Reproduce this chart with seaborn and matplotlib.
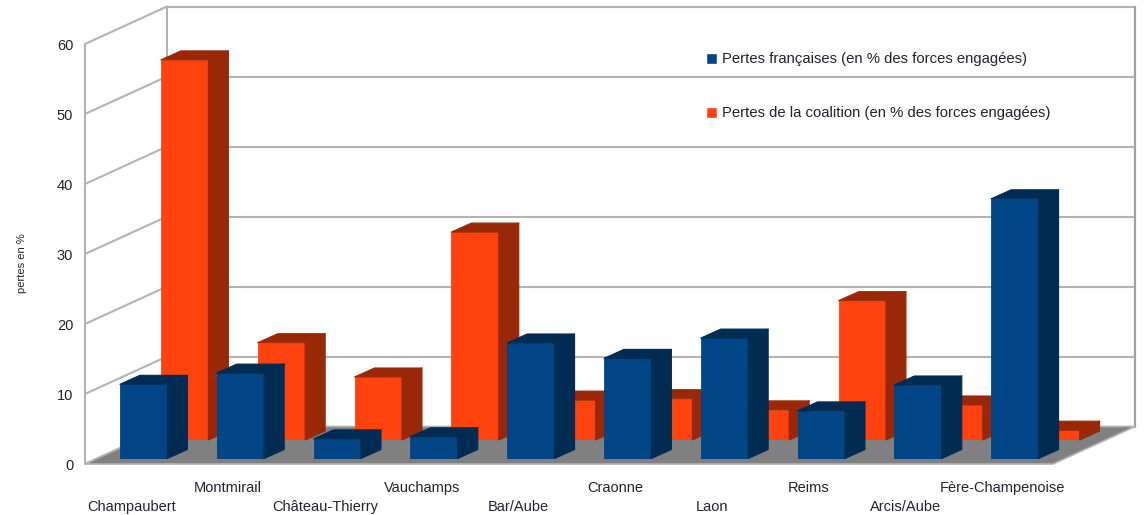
import matplotlib
matplotlib.use("Agg")
import matplotlib.pyplot as plt
from matplotlib.patches import Patch, Polygon
from matplotlib.transforms import ScaledTranslation
import seaborn as sns

battles = ["Champaubert", "Montmirail", "Château-Thierry", "Vauchamps", "Bar/Aube",
           "Craonne", "Laon", "Reims", "Arcis/Aube", "Fère-Champenoise"]
pertes_fr = [10.6, 12.2, 2.8, 3.1, 16.5, 14.3, 17.2, 6.8, 10.5, 37.1]
pertes_coal = [54.3, 13.9, 9.0, 29.7, 5.7, 5.9, 4.3, 19.9, 5.0, 1.4]
y_ticks = [0, 10, 20, 30, 40, 50, 60]
legend_labels = ["Pertes françaises (en % des forces engagées)",
                 "Pertes de la coalition (en % des forces engagées)"]

W, H = 1144, 515
X0, Y0 = 85, 464  # front-left corner of the floor, pixels
PW, PH = 968, 420  # front plane size, pixels
CAT = PW / 10
UNIT = PH / 60

BLUE, BLUE_DARK = "#004586", "#002b53"
ORANGE, ORANGE_DARK = "#ff420e", "#992809"
GRID = "#b3b3b3"
TEXT = "#222233"

sns.set_theme(style="white")
plt.rcParams["font.family"] = ["Liberation Sans", "DejaVu Sans"]


def plane_axes(fig, dx, dy, zorder):
    ax = fig.add_axes([(X0 + dx) / W, 1 - (Y0 - dy) / H, PW / W, PH / H], zorder=zorder)
    ax.patch.set_alpha(0)
    return ax


def draw_bars(ax, values, color, dark):
    sns.barplot(x=battles, y=values, ax=ax, color=color, saturation=1, width=0.49,
                edgecolor=color, linewidth=0.6)
    ax.set_xlim(-0.5, 9.5)
    ax.set_ylim(0, 60)
    ddx, ddy = 20 / CAT, 9 / UNIT
    for bar in ax.patches:
        x1 = bar.get_x() + bar.get_width()
        x0 = bar.get_x()
        h = bar.get_height()
        side = [(x1, 0), (x1 + ddx, ddy), (x1 + ddx, h + ddy), (x1, h)]
        top = [(x0, h), (x0 + ddx, h + ddy), (x1 + ddx, h + ddy), (x1, h)]
        for pts in (side, top):
            ax.add_patch(Polygon(pts, closed=True, facecolor=dark, edgecolor=dark,
                                 linewidth=0.8, joinstyle="round", clip_on=False))
    ax.axis("off")


fig = plt.figure(figsize=(W / 100, H / 100), dpi=100)
fig.patch.set_facecolor("white")

ax = plane_axes(fig, 0, 0, 1)
ax.set_xlim(-0.5, 9.5)
ax.set_ylim(0, 60)
for s in ax.spines.values():
    s.set_visible(False)

# walls and floor, all from the axis scale plus a fixed depth
depth_x, depth_y = 82 / CAT, 37.5 / UNIT
xa, xb = -0.5, 9.5
ax.add_patch(Polygon([(xa, 0), (xb, 0), (xb + depth_x, depth_y), (xa + depth_x, depth_y)],
                     closed=True, facecolor="#808080", edgecolor=GRID, linewidth=1.2,
                     clip_on=False, zorder=2))
for t in y_ticks:
    ax.plot([xa, xa + depth_x], [t, t + depth_y], color=GRID, lw=1.5, clip_on=False, zorder=1)
    if t > 0:
        ax.plot([xa + depth_x, xb + depth_x], [t + depth_y, t + depth_y], color=GRID, lw=1.5,
                clip_on=False, zorder=1)
ax.plot([xa, xa], [0, 60], color=GRID, lw=1.5, clip_on=False, zorder=1)
ax.plot([xa + depth_x] * 2, [depth_y, 60 + depth_y], color=GRID, lw=1.5, clip_on=False, zorder=1)
ax.plot([xb + depth_x] * 2, [depth_y, 60 + depth_y], color="#a0a0a0", lw=1.6, clip_on=False, zorder=1)

ax.set_yticks(y_ticks)
ax.set_xticks(range(len(battles)))
ax.set_xticklabels(battles)
ax.tick_params(axis="both", length=0, labelsize=10.5, labelcolor=TEXT)
ax.tick_params(axis="y", pad=8.5)
for i, tick in enumerate(ax.xaxis.get_major_ticks()):
    tick.set_pad(26 if i % 2 == 0 else 12)
# the labels sit a touch left of the category centres
shift = ScaledTranslation(-2 / 100, 0, fig.dpi_scale_trans)
for label in ax.get_xticklabels():
    label.set_transform(label.get_transform() + shift)
ax.set_ylabel("pertes en %", fontsize=8, color=TEXT)
ax.yaxis.set_label_coords(-58 / PW, (Y0 - 263) / PH)

ax_coal = plane_axes(fig, 51.25, 24, 2)
draw_bars(ax_coal, pertes_coal, ORANGE, ORANGE_DARK)

ax_fr = plane_axes(fig, 10.25, 5.5, 3)
draw_bars(ax_fr, pertes_fr, BLUE, BLUE_DARK)

handles = [Patch(facecolor=BLUE), Patch(facecolor=ORANGE)]
fig.legend(handles, legend_labels, loc="upper left", bbox_to_anchor=(706 / W, 1 - 52.5 / H),
           frameon=False, fontsize=10.7, labelcolor=TEXT, handlelength=0.75, handleheight=0.75,
           handletextpad=0.35, labelspacing=2.68, borderpad=0, borderaxespad=0)

fig.savefig("out.png", dpi=100)
